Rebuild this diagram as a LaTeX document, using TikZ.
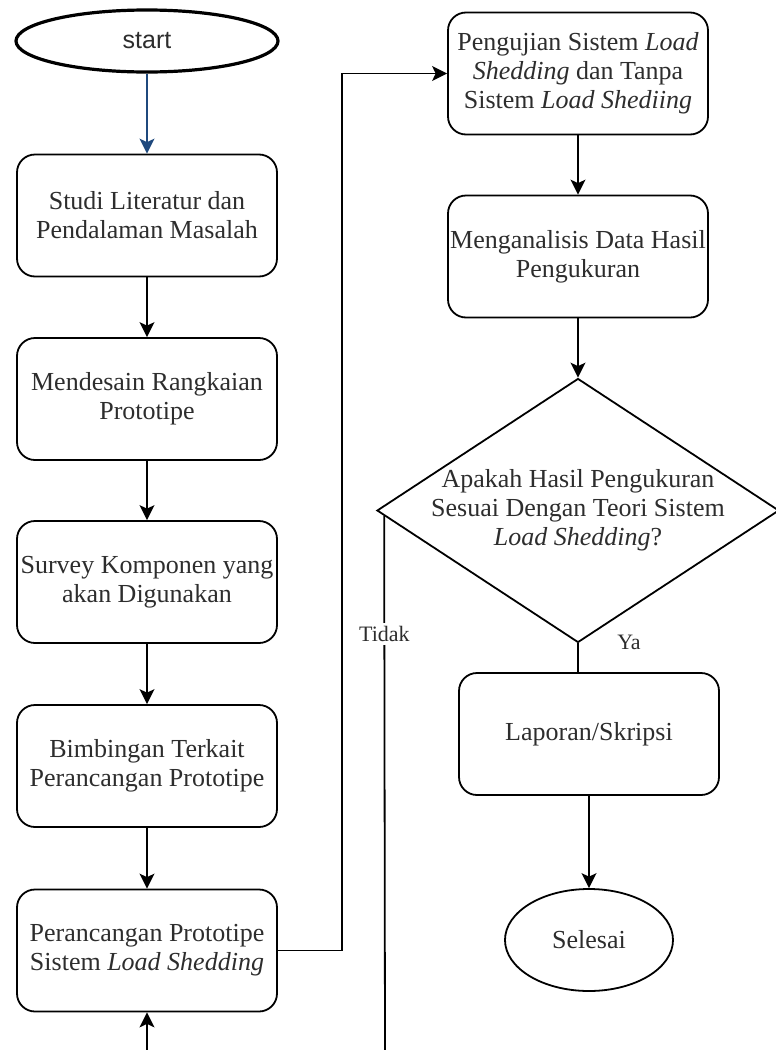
\documentclass[tikz,border=0pt]{standalone}
\usepackage{fontspec}
\setmainfont{Liberation Serif}
\newfontfamily\arialfont{Liberation Sans}
\usepackage{tikz}
\usetikzlibrary{arrows.meta,positioning,shapes.geometric,calc}
\definecolor{arrowblue}{RGB}{31,73,125}
\definecolor{txtgray}{RGB}{45,45,45}

\begin{document}
\begin{tikzpicture}[
        x=0.5pt, y=-0.5pt,
        every node/.style={font=\fontsize{13}{14.5}\selectfont, text=txtgray},
        procbox/.style={
            draw,
            line width=0.9pt,
            rounded corners=9pt,
            minimum width=130pt,
            minimum height=61pt,
            inner sep=1pt,
            align=center
        },
        terminal/.style={draw, ellipse, line width=0.9pt, inner sep=0pt},
        decision/.style={draw, diamond, line width=0.9pt, inner sep=0pt,
            minimum width=201pt, minimum height=132pt},
        arrow/.style={-{Stealth[length=7.5pt,width=7.5pt,inset=1.8pt]}, line width=0.9pt},
        link/.style={line width=0.9pt},
        msg/.style={fill=white, inner sep=1.5pt, font=\fontsize{11}{13}\selectfont}
    ]
        \useasboundingbox (0,0) rectangle (776,1050);

        % left column
        \node[terminal, line width=1.6pt, minimum width=131pt, minimum height=31pt,
            font=\arialfont\fontsize{12.5}{14}\selectfont] (start) at (147,41) {start};
        \node[procbox] (studi)  at (147,215.5) {Studi Literatur dan\\Pendalaman Masalah};
        \node[procbox] (desain) at (147,399)   {Mendesain Rangkaian\\Prototipe};
        \node[procbox] (survey) at (147,582)   {Survey Komponen yang\\akan Digunakan};
        \node[procbox] (bimb)   at (147,766)   {Bimbingan Terkait\\Perancangan Prototipe};
        \node[procbox] (ranc)   at (147,950.5) {Perancangan Prototipe\\Sistem \textit{Load Shedding}};

        % right column
        \node[procbox] (uji)    at (578,73.5)  {Pengujian Sistem \textit{Load}\\\textit{Shedding} dan Tanpa\\Sistem \textit{Load Shediing}};
        \node[procbox] (analis) at (578,256.5) {Menganalisis Data Hasil\\Pengukuran};
        \node[decision, label={[align=center]center:{Apakah Hasil Pengukuran\\Sesuai Dengan Teori Sistem\\\textit{Load Shedding}?}}]
            (cek) at (578,510.5) {};
        \node[procbox] (lapor)  at (589,734)   {Laporan/Skripsi};
        \node[terminal, minimum width=84pt, minimum height=51pt] (selesai) at (589,940) {Selesai};

        \coordinate (feedin)  at (147,1052);
        \coordinate (loopend) at (385,1052);

        \draw[arrow, draw=arrowblue] (start) -- (studi);
        \draw[arrow] (studi) -- (desain);
        \draw[arrow] (desain) -- (survey);
        \draw[arrow] (survey) -- (bimb);
        \draw[arrow] (bimb) -- (ranc);
        \draw[arrow] (feedin) -- (ranc.south);

        \draw[arrow] (ranc.east) -- ++(64,0) |- (uji.west);
        \draw[arrow] (uji) -- (analis);
        \draw[arrow] (analis) -- (cek.north);

        \draw[link] (cek.south) -- (cek.south |- lapor.north);
        \node[msg, fill=none] (ya) at (629,642) {Ya};
        \draw[arrow] (lapor.south) -- (selesai.north);

        \draw[link] ($(cek.west)!0.04!(cek.south)$) --
            node[msg, pos=0.22] {Tidak} (loopend);

    \end{tikzpicture}
\end{document}
